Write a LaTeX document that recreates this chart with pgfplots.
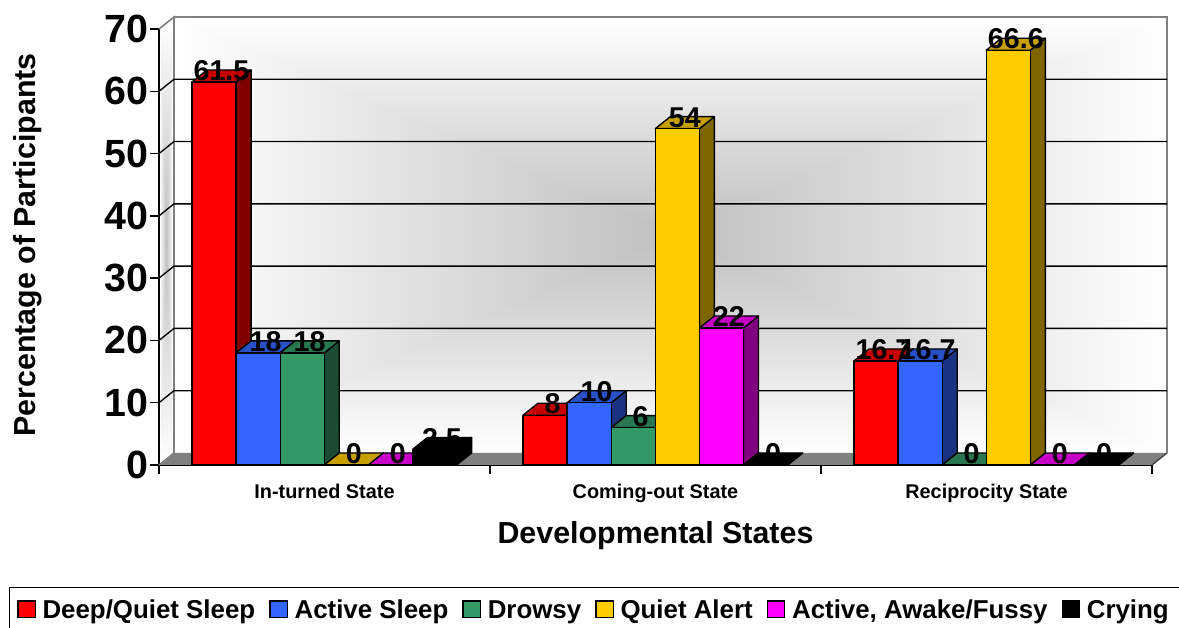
\documentclass[border=0pt]{standalone}
\usepackage{pgfplots}
\pgfplotsset{compat=1.18}
\usepackage{fontspec}
\setmainfont{Liberation Sans}
\usetikzlibrary{shadings}
% back wall: rectangular path gradient, grey centre, white edges
\pgfdeclarefunctionalshading{wallshade}{\pgfpointorigin}{\pgfpoint{100bp}{100bp}}{}{
  50 sub abs 25 div exch 50 sub abs 25 div
  2 copy lt {exch} if pop
  dup 1 gt {pop 1} if
  0.25 mul 0.75 add dup dup
}
\definecolor{cRed}{HTML}{FF0000}
\definecolor{cBlue}{HTML}{3366FF}
\definecolor{cGreen}{HTML}{339966}
\definecolor{cYellow}{HTML}{FFCC00}
\definecolor{cMag}{HTML}{FF00FF}
\definecolor{cBlack}{HTML}{000000}
\def\pxgroup{331}
\newcommand{\tdbar}[4]{%
  \pgfmathsetmacro\xa{#1+(33+44.1*#2)/\pxgroup}%
  \pgfmathsetmacro\xb{\xa+44.1/\pxgroup}%
  \pgfmathsetmacro\xc{\xa+15/\pxgroup}%
  \pgfmathsetmacro\xd{\xb+15/\pxgroup}%
  \pgfmathsetmacro\yt{#3+12/6.229}%
  \pgfmathsetmacro\yb{12/6.229}%
  \addplot[forget plot,draw=black,line width=1pt,line join=round,fill=#4!50!black] coordinates {(\xb,0)(\xd,\yb)(\xd,\yt)(\xb,#3)} --cycle;
  \addplot[forget plot,draw=black,line width=1pt,line join=round,fill=#4!78!black] coordinates {(\xa,#3)(\xc,\yt)(\xd,\yt)(\xb,#3)} --cycle;
  \addplot[forget plot,draw=black,line width=1pt,line join=round,fill=#4] coordinates {(\xa,0)(\xa,#3)(\xb,#3)(\xb,0)} --cycle;
}
\begin{document}
\begin{tikzpicture}[x=1pt,y=1pt]
\path[use as bounding box] (0,0) rectangle (884.25,471);
% walls (pixel*0.75)
\path[shading=wallshade] (130.5,131.6) rectangle (875.25,458.5);
\begin{scope}
\clip (119.25,122.25) -- (130.5,131.6) -- (130.5,458.5) -- (119.25,449) -- cycle;
\path[shading=wallshade] (119.75,122.25) rectangle (129.5,458.5);
\end{scope}
\begin{axis}[
  at={(119.25pt,122.25pt)},anchor=origin,
  scale only axis,width=744.75pt,height=327pt,
  xmin=0,xmax=3,ymin=0,ymax=70,clip=false,
  axis x line=bottom,axis y line=left,axis line style={-,line width=1pt,black},
  xtick={0,1,2,3},xticklabels={In-turned State,Coming-out State,Reciprocity State},
  x tick label as interval,
  ytick={0,10,...,70},
  tick align=outside,major tick length=6.5pt,
  tick style={black,line width=1pt},
  /pgf/number format/assume math mode=true,
  yticklabel style={font=\fontsize{29.5}{30}\selectfont\bfseries,inner sep=0pt,xshift=-1.5pt},
  xticklabel style={font=\fontsize{14.9}{16}\selectfont\bfseries,yshift=-4pt},
  xlabel={Developmental States},ylabel={Percentage of Participants},
  xlabel style={font=\fontsize{22.8}{24}\selectfont\bfseries,yshift=-7.75pt},
  ylabel style={font=\fontsize{22.8}{24}\selectfont\bfseries,xshift=1.5pt},
  ylabel shift=43.5pt,
  legend columns=6,
  legend style={at={(-0.1512,-0.2791)},anchor=north west,draw=black,line width=1pt,
    inner xsep=5.75pt,inner ysep=7pt,font=\fontsize{19.4}{21}\selectfont\bfseries,
    /tikz/every even column/.append style={column sep=8.5pt},
    /tikz/every odd column/.append style={column sep=3pt}},
  legend image code/.code={\draw[#1] (0pt,-6pt) rectangle (13pt,6.5pt);},
]
\addlegendimage{fill=cRed,draw=black,line width=1pt}\addlegendentry{Deep/Quiet Sleep}
\addlegendimage{fill=cBlue,draw=black,line width=1pt}\addlegendentry{Active Sleep\vphantom{/}}
\addlegendimage{fill=cGreen,draw=black,line width=1pt}\addlegendentry{Drowsy\vphantom{/}}
\addlegendimage{fill=cYellow,draw=black,line width=1pt}\addlegendentry{Quiet Alert\vphantom{/}}
\addlegendimage{fill=cMag,draw=black,line width=1pt}\addlegendentry{Active, Awake/Fussy}
\addlegendimage{fill=cBlack,draw=black,line width=1pt}\addlegendentry{Crying\vphantom{/}\rule{20pt}{0pt}}
% floor
\addplot[forget plot,draw=none,fill=black!50] coordinates {(0,0)(3,0)(3.0453,1.93)(0.0453,1.93)} --cycle;
% wall frame
\addplot[forget plot,draw=black!50,line width=1.2pt] coordinates {(0,0)(0.0453,1.93)(0.0453,71.93)(0,70)};
\addplot[forget plot,draw=black!50,line width=1.2pt] coordinates {(0.0453,71.93)(3.0453,71.93)(3.0453,1.93)};
\addplot[forget plot,draw=black!75,line width=1pt] coordinates {(3.0453,1.93)(3,0)};
% gridlines
\addplot[forget plot,draw=black,line width=1pt] coordinates {(0,10)(0.0453,11.93)(3.0453,11.93)};
\addplot[forget plot,draw=black,line width=1pt] coordinates {(0,20)(0.0453,21.93)(3.0453,21.93)};
\addplot[forget plot,draw=black,line width=1pt] coordinates {(0,30)(0.0453,31.93)(3.0453,31.93)};
\addplot[forget plot,draw=black,line width=1pt] coordinates {(0,40)(0.0453,41.93)(3.0453,41.93)};
\addplot[forget plot,draw=black,line width=1pt] coordinates {(0,50)(0.0453,51.93)(3.0453,51.93)};
\addplot[forget plot,draw=black,line width=1pt] coordinates {(0,60)(0.0453,61.93)(3.0453,61.93)};
% bars
\tdbar{0}{0}{61.5}{cRed}
\tdbar{0}{1}{18}{cBlue}
\tdbar{0}{2}{18}{cGreen}
\tdbar{0}{3}{0}{cYellow}
\tdbar{0}{4}{0}{cMag}
\tdbar{0}{5}{2.5}{cBlack}
\tdbar{1}{0}{8}{cRed}
\tdbar{1}{1}{10}{cBlue}
\tdbar{1}{2}{6}{cGreen}
\tdbar{1}{3}{54}{cYellow}
\tdbar{1}{4}{22}{cMag}
\tdbar{1}{5}{0}{cBlack}
\tdbar{2}{0}{16.7}{cRed}
\tdbar{2}{1}{16.7}{cBlue}
\tdbar{2}{2}{0}{cGreen}
\tdbar{2}{3}{66.6}{cYellow}
\tdbar{2}{4}{0}{cMag}
\tdbar{2}{5}{0}{cBlack}
% value labels
\addplot[forget plot,draw=none,mark=none,point meta=explicit symbolic,
  nodes near coords,
  nodes near coords align={anchor=base},
  every node near coord/.append style={font=\fontsize{21.5}{22}\selectfont\bfseries,inner sep=0pt,yshift=1pt,xshift=5.6pt,text=black}]
  table[meta=l] {
x y l
0.1663 61.5 61.5
0.2995 18 18
0.4327 18 18
0.5660 0 0
0.6992 0 0
0.8324 2.5 2.5
1.1663 8 8
1.2995 10 10
1.4327 6 6
1.5660 54 54
1.6992 22 22
1.8324 0 0
2.1663 16.7 16.7
2.2995 16.7 16.7
2.4327 0 0
2.5660 66.6 66.6
2.6992 0 0
2.8324 0 0
};
\end{axis}
\end{tikzpicture}
\end{document}
